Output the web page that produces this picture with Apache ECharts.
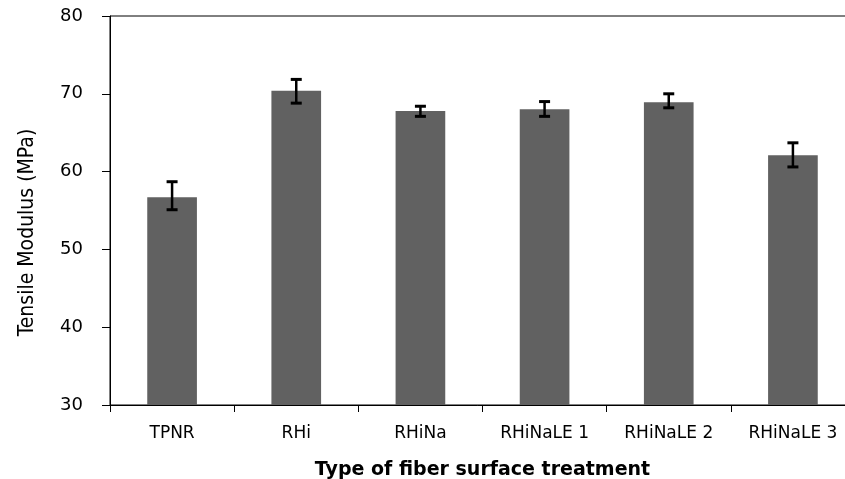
<!DOCTYPE html>
<html>
<head>
<meta charset="utf-8">
<script src="https://cdn.jsdelivr.net/npm/echarts@6/dist/echarts.min.js"></script>
<style>html,body{margin:0;padding:0;background:#fff}#c{width:845px;height:479px}</style>
</head>
<body>
<div id="c"></div>
<script>
var categories = ['TPNR', 'RHi', 'RHiNa', 'RHiNaLE 1', 'RHiNaLE 2', 'RHiNaLE 3'];
var modulus = [56.7, 70.4, 67.8, 68.0, 68.9, 62.1];
var errLow = [55.1, 68.8, 67.1, 67.1, 68.2, 60.6];
var errHigh = [58.7, 71.85, 68.4, 69.0, 70.0, 63.7];
var yTicks = { min: 30, max: 80, interval: 10 };

var errData = categories.map(function (c, i) { return [i, errLow[i], errHigh[i]]; });

var chart = echarts.init(document.getElementById('c'));
chart.setOption({
  animation: false,
  backgroundColor: '#ffffff',
  grid: { left: 110, top: 16, width: 745, height: 389, show: true, borderColor: '#000', borderWidth: 1, backgroundColor: 'transparent', outerBoundsMode: 'none', containLabel: false },
  xAxis: {
    type: 'category',
    data: categories,
    name: 'Type of fiber surface treatment',
    nameLocation: 'middle',
    nameGap: 56,
    nameMoveOverlap: false,
    nameTextStyle: { fontFamily: 'DejaVu Sans', fontWeight: 'bold', fontSize: 19, color: '#000' },
    axisLine: { lineStyle: { color: '#000', width: 1 } },
    axisTick: { show: true, length: 7, lineStyle: { color: '#000', width: 1 } },
    axisLabel: { fontFamily: 'DejaVu Sans', fontSize: 17, color: '#000', margin: 20, interval: 0 },
    splitLine: { show: false }
  },
  yAxis: {
    type: 'value',
    min: yTicks.min, max: yTicks.max, interval: yTicks.interval,
    name: 'Tensile Modulus (MPa)',
    nameLocation: 'middle',
    nameGap: 72,
    nameRotate: 90,
    nameMoveOverlap: false,
    nameTextStyle: { fontFamily: '"DejaVu Sans Condensed", sans-serif', fontSize: 21, color: '#000', padding: [0, 44, 0, 0] },
    axisLine: { show: true, lineStyle: { color: '#000', width: 1 } },
    axisTick: { show: true, length: 8, lineStyle: { color: '#000', width: 1 } },
    axisLabel: { fontFamily: 'DejaVu Sans', fontSize: 18, color: '#000', margin: 27 },
    splitLine: { show: false }
  },
  series: [
    {
      type: 'bar',
      data: modulus,
      barWidth: '40%',
      itemStyle: { color: '#616161' }
    },
    {
      type: 'custom',
      data: errData,
      z: 10,
      renderItem: function (params, api) {
        var x = api.value(0);
        var lo = api.coord([x, api.value(1)]);
        var hi = api.coord([x, api.value(2)]);
        var hw = 5.5;
        var st = { stroke: '#000', lineWidth: 2.5 };
        var cs = { stroke: '#000', lineWidth: 3 };
        return {
          type: 'group',
          children: [
            { type: 'line', shape: { x1: hi[0], y1: hi[1], x2: lo[0], y2: lo[1] }, style: st },
            { type: 'line', shape: { x1: hi[0] - hw, y1: hi[1], x2: hi[0] + hw, y2: hi[1] }, style: cs },
            { type: 'line', shape: { x1: lo[0] - hw, y1: lo[1], x2: lo[0] + hw, y2: lo[1] }, style: cs }
          ]
        };
      }
    }
  ]
});
</script>
</body>
</html>
